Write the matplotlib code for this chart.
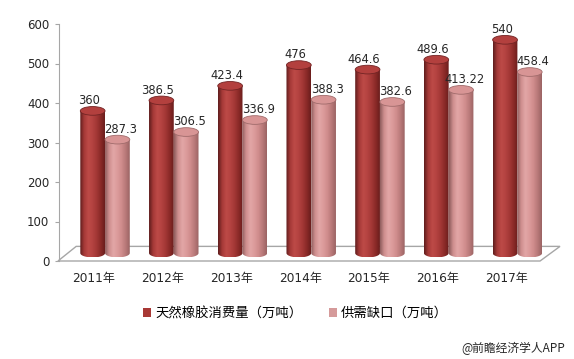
import matplotlib
matplotlib.use("Agg")
import matplotlib.pyplot as plt
from matplotlib.colors import LinearSegmentedColormap
from matplotlib.patches import Ellipse, Polygon, Patch
import numpy as np

plt.rcParams['font.family'] = ['DejaVu Sans', 'Noto Sans CJK SC']

years = ['2011年', '2012年', '2013年', '2014年', '2015年', '2016年', '2017年']
consumption = [360, 386.5, 423.4, 476, 464.6, 489.6, 540]
gap = [287.3, 306.5, 336.9, 388.3, 382.6, 413.22, 458.4]
series_names = ['天然橡胶消费量（万吨）', '供需缺口（万吨）']

dark_cmap = LinearSegmentedColormap.from_list(
    'dark', ['#5e1c1c', '#a63a38', '#bd4a47', '#b44341', '#a33735', '#8a2a28', '#6a1d1c'])
pink_cmap = LinearSegmentedColormap.from_list(
    'pink', ['#8e5d5d', '#cf8f8f', '#e2a6a6', '#dc9b9b', '#cf8c8c', '#b87878', '#9a6363'])
dark_top = '#b3403e'
pink_top = '#d89595'

depth = 20      # 3d offset of the bar base (data units)
ell_h = 22      # ellipse height (data units)
bar_w = 0.36
n = len(years)

fig = plt.figure(figsize=(5.74, 3.59), dpi=100)
ax = fig.add_axes([59 / 574, (359 - 261) / 359, 501 / 574, 237 / 359])
xlo, xhi = -0.67, 6.62


def cylinder(xc, value, cmap, top_color, z):
    x0, x1 = xc - bar_w / 2, xc + bar_w / 2
    bottom, top = depth, value + depth
    grad = np.linspace(0, 1, 128).reshape(1, -1)
    im = ax.imshow(grad, cmap=cmap, extent=[x0, x1, bottom - ell_h / 2, top],
                   aspect='auto', zorder=z, interpolation='bilinear')
    t = np.linspace(np.pi, 2 * np.pi, 40)
    arc = np.column_stack([xc + bar_w / 2 * np.cos(t), bottom + ell_h / 2 * np.sin(t)])
    verts = np.vstack([[x0, top], arc, [x1, top], [x0, top]])
    clip = Polygon(verts, closed=True, transform=ax.transData, facecolor='none', edgecolor='none')
    ax.add_patch(clip)
    im.set_clip_path(clip)
    ax.add_patch(Ellipse((xc, top), bar_w, ell_h, facecolor=top_color,
                         edgecolor=cmap(0.05), lw=0.6, zorder=z + 0.1))


# floor
floor = Polygon([[xlo - 0.015, 0], [n - 1 + 0.33, 0], [xhi, 37], [xlo + 0.25, 37]],
                closed=True, facecolor='white', edgecolor='#a6a6a6', lw=1.0,
                zorder=1, clip_on=False)
ax.add_patch(floor)

for i in range(n):
    cylinder(i - bar_w / 2, consumption[i], dark_cmap, dark_top, 3 + i)
    cylinder(i + bar_w / 2, gap[i], pink_cmap, pink_top, 3.5 + i)
    ax.text(i - bar_w / 2 - 0.05, consumption[i] + depth + 26, f"{consumption[i]:g}",
            ha='center', va='center', fontsize=8.3, color='#262626', zorder=20)
    ax.text(i + bar_w / 2 + 0.05, gap[i] + depth + 26, f"{gap[i]:g}",
            ha='center', va='center', fontsize=8.3, color='#262626', zorder=20)
    ax.text(i - 0.16, -45, years[i], ha='center', va='center', fontsize=8.7,
            color='#262626', family=['DejaVu Sans', 'Noto Sans CJK SC'])

ax.set_xlim(xlo, xhi)
ax.set_ylim(0, 600)
ax.set_yticks(range(0, 601, 100))
ax.set_xticks([])
for s in ['top', 'right', 'bottom']:
    ax.spines[s].set_visible(False)
ax.spines['left'].set_color('#a6a6a6')
ax.tick_params(axis='y', length=3, color='#a6a6a6', labelsize=8.5, labelcolor='#262626', pad=4)
ax.set_facecolor('none')

handles = [Patch(facecolor='#a83835'), Patch(facecolor='#d59a9a')]
fig.legend(handles, series_names, loc='center', bbox_to_anchor=(0.515, 0.128), ncol=2,
           frameon=False, handlelength=0.6, handleheight=0.6,
           handletextpad=0.3, columnspacing=2.0,
           prop={'family': ['Noto Sans CJK SC', 'DejaVu Sans'], 'size': 9.6})

fig.text(0.985, 0.03, '@前瞻经济学人APP', ha='right', va='center', fontsize=8.5,
         color='#262626', family=['Noto Sans CJK SC', 'DejaVu Sans'])

fig.savefig('out.png', dpi=100)
